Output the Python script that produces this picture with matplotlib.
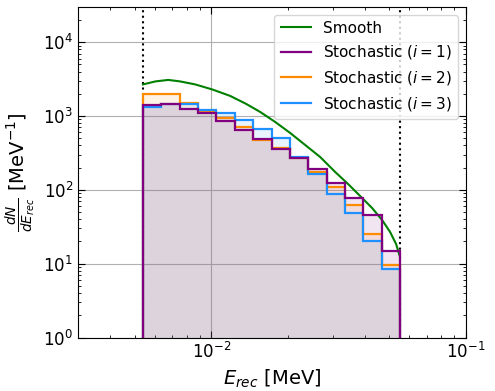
import numpy as np
import matplotlib
matplotlib.use("Agg")
import matplotlib.pyplot as plt

# ビンの端 (対数等間隔, 14ビン)
e_lo = 5.40e-3
e_hi = 5.51e-2
n_bins = 14

# 確率的サンプル (i=1,2,3) の各ビンの値 [MeV^-1]
stoch_1 = [1413, 1473, 1259, 1112, 859, 648, 482, 362, 266, 190, 123, 77, 45.7, 15.0]
stoch_2 = [1974, 1993, 1490, 1162, 928, 705, 476, 370, 268, 174, 110, 63, 25.5, 9.7]
stoch_3 = [1341, 1450, 1445, 1191, 1085, 885, 662, 500, 282, 163, 88, 48, 20.1, 8.5]

# 滑らかなスペクトル
smooth_e = [0.005399, 0.006032, 0.006782, 0.007557, 0.008656, 0.010090, 0.011872,
            0.013718, 0.015567, 0.017824, 0.020408, 0.023365, 0.026760, 0.030640,
            0.034450, 0.038390, 0.042790, 0.046830, 0.050350, 0.053150, 0.055100]
smooth_dn = [2681, 2943, 3085, 2943, 2681, 2293, 1873, 1459, 1136, 832, 590, 406,
             279, 175, 120, 82.7, 56.8, 39.1, 26.9, 18.5, 12.3]

edges = np.geomspace(e_lo, e_hi, n_bins + 1)

fig = plt.figure(figsize=(4.95, 3.91), dpi=100)
ax = fig.add_axes([78 / 495, 1 - 337.5 / 391, 388 / 495, 330.5 / 391])

ax.plot(smooth_e, smooth_dn, color="green", lw=1.5, label="Smooth", zorder=2.5)

series = [
    (stoch_1, "purple", r"Stochastic ($i=1$)", 3.2),
    (stoch_2, "darkorange", r"Stochastic ($i=2$)", 2.8),
    (stoch_3, "dodgerblue", r"Stochastic ($i=3$)", 2.9),
]
for vals, col, lab, z in series:
    ax.stairs(vals, edges, baseline=1, fill=True, color=col, alpha=0.1, lw=0, zorder=2)
    ax.stairs(vals, edges, baseline=1, color=col, lw=1.6, label=lab, zorder=z)

ax.axvline(e_lo, color="k", ls=":", lw=1.5, zorder=1.5)
ax.axvline(e_hi, color="k", ls=":", lw=1.5, zorder=1.5)

ax.set_xscale("log")
ax.set_yscale("log")
ax.set_xlim(3e-3, 1e-1)
ax.set_ylim(1, 3e4)

ax.grid(True, which="major", color="#b0b0b0", lw=0.8)
ax.tick_params(which="both", direction="in", top=True, right=True, labelsize=12)
ax.tick_params(which="major", length=5)
ax.tick_params(which="minor", length=2.5)

ax.set_xlabel(r"$E_{rec}$ [MeV]", fontsize=14)
ax.set_ylabel(r"$\frac{dN}{dE_{rec}}$ [MeV$^{-1}$]", fontsize=14)

# 凡例の順番: Smooth, i=1, i=2, i=3
handles, labels = ax.get_legend_handles_labels()
leg = ax.legend(handles, labels, loc="upper right", fontsize=11)
# 凡例の線を普通の線に
from matplotlib.lines import Line2D
new_handles = [Line2D([], [], color="green", lw=1.5)] + \
              [Line2D([], [], color=c, lw=1.6) for _, c, _, _ in series]
ax.legend(new_handles, labels, loc="upper right", fontsize=11)

plt.savefig("out.png", dpi=100)
